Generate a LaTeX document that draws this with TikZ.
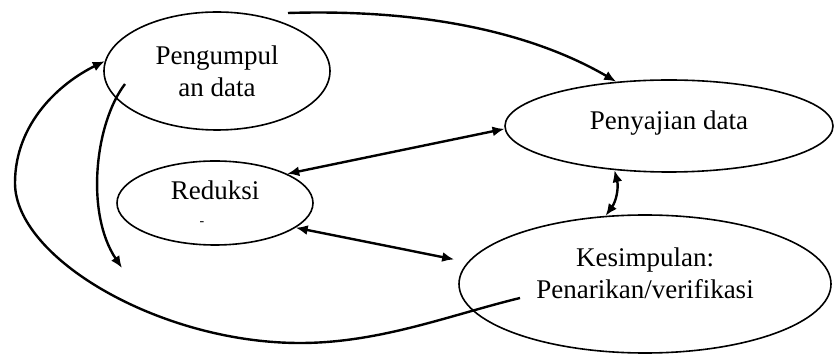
\documentclass[tikz,border=0pt]{standalone}
\usepackage{fontspec}
\setmainfont{Liberation Serif}
\usetikzlibrary{shapes.geometric, arrows.meta}
\tikzset{>={Latex[length=6pt, width=5pt]}}

\begin{document}
\begin{tikzpicture}[
  x=0.5pt, y=0.5pt,
  stage/.style={ellipse, draw, line width=0.8pt, inner sep=0pt, align=center, font=\fontsize{13.5}{16}\selectfont},
  flow/.style={->, line width=1.2pt},
  twoway/.style={<->, line width=1.2pt}
]
\useasboundingbox (0,0) rectangle (834,353);

% The four stages
\node[stage, minimum width=113pt, minimum height=59pt] (kumpul) at (217,282) {Pengumpul\\an data};
\node[stage, minimum width=164pt, minimum height=46pt] (sajian) at (669,227) {Penyajian data\rule[-6pt]{0pt}{0pt}};
\node[stage, minimum width=98pt, minimum height=42pt] (reduksi) at (215,150) {Reduksi\\[-3pt]{\scriptsize -}\hspace*{13pt}};
\node[stage, minimum width=186pt, minimum height=69pt] (simpul) at (645,69) {Kesimpulan:\\Penarikan/verifikasi\rule[-11pt]{0pt}{0pt}};

% Free ends of the loose connectors
\coordinate (topstart) at (288,340);
\coordinate (innerstart) at (125,269);
\coordinate (innerend) at (122,85);
\coordinate (loopstart) at (520,55);

% Collection feeds the display
\draw[flow] (topstart) .. controls (450,345) and (550,310) .. (sajian.140);

% Two-way links between stages
\draw[twoway] (reduksi.22) -- (sajian.181);
\draw[twoway] (reduksi.-17) -- ([xshift=-8pt]simpul.172);
\draw[twoway] (sajian.219) to[bend left=25] (simpul.120);

% Collection down to reduction
\draw[flow] (innerstart) .. controls (95,230) and (85,140) .. (innerend);

% Conclusion loops back to collection
\draw[flow] (loopstart) .. controls (450,38) and (380,10) .. (300,10)
  .. controls (160,10) and (15,95) .. (15,170)
  .. controls (15,230) and (60,270) .. (kumpul.175);

\end{tikzpicture}
\end{document}
